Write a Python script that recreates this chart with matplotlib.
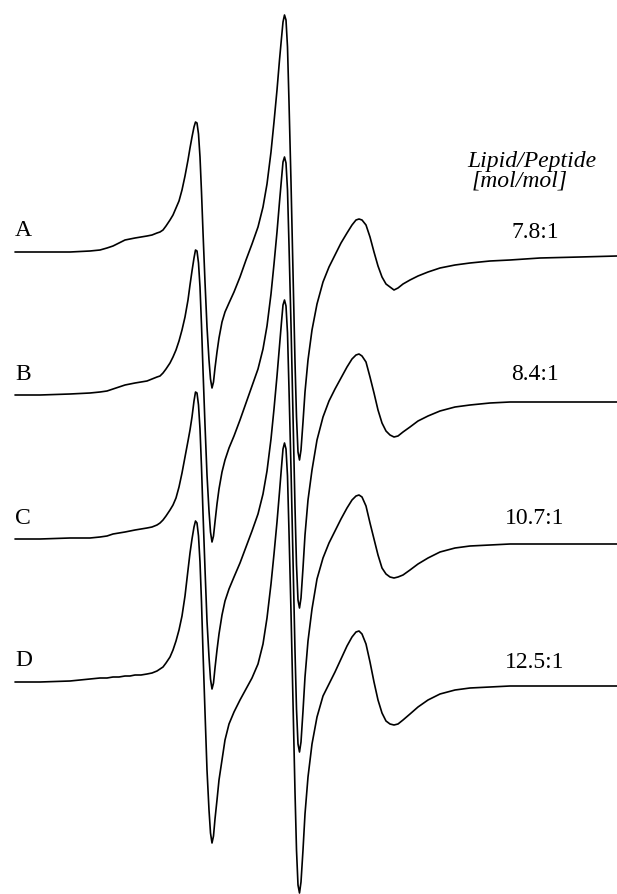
import numpy as np
import matplotlib
matplotlib.use("Agg")
from matplotlib import pyplot as plt

# field positions (arbitrary units, shared by all four spectra)
field = [15, 40, 70, 90, 100, 107, 113, 119, 125, 130,
         135, 141, 147, 152, 157, 160, 163, 166, 170, 173,
         176, 179, 182, 185, 188, 190, 192, 194, 195.5, 197,
         198.5, 200, 201.5, 203, 205, 207, 209, 210.5, 212, 213.5,
         215, 217, 219, 222, 225, 229, 234, 240, 246, 252,
         258, 263, 267, 271, 274, 277, 279.5, 281.5, 283, 284.5,
         286, 287.5, 289, 291, 293, 295, 296.5, 298, 299.5, 301,
         303, 305, 308, 312, 317, 323, 329, 335, 341, 347,
         352, 356, 359, 362, 366, 370, 374, 378, 382, 386,
         390, 394, 398, 403, 410, 418, 428, 440, 455, 470,
         490, 510, 540, 580, 617]

# EPR derivative signal of each sample
amp_A = [0, 0, 0, 1, 2, 4, 6, 9, 12, 13,
         14, 15, 16, 17, 19, 20, 22, 26, 32, 37,
         44, 51, 62, 76, 92, 104, 115, 125, 130, 129,
         118, 95, 60, 20, -30, -75, -108, -127, -136, -130,
         -116, -100, -86, -70, -60, -51, -40, -25, -8, 8,
         25, 45, 68, 100, 130, 162, 192, 214, 230, 237,
         232, 205, 150, 70, -20, -110, -165, -200, -208, -198,
         -170, -140, -108, -78, -52, -30, -15, -3, 9, 19,
         27, 32, 33, 32, 27, 15, 0, -14, -25, -32,
         -35, -38, -36, -32, -28, -24, -20, -16, -13, -11,
         -9, -8, -6, -5, -4]
amp_B = [0, 0, 1, 2, 3, 4, 6, 8, 10, 11,
         12, 13, 14, 16, 18, 19, 22, 26, 32, 38,
         45, 54, 65, 78, 95, 110, 124, 137, 145, 144,
         132, 108, 70, 25, -30, -80, -116, -137, -147, -141,
         -127, -109, -94, -77, -65, -53, -41, -25, -8, 9,
         26, 46, 69, 101, 131, 163, 193, 216, 233, 238,
         232, 205, 150, 70, -20, -112, -170, -205, -213, -203,
         -173, -140, -105, -75, -45, -22, -6, 6, 17, 28,
         36, 40, 41, 39, 33, 18, 2, -15, -28, -36,
         -40, -42, -41, -37, -32, -26, -21, -16, -12, -10,
         -8, -7, -7, -7, -7]
amp_C = [0, 0, 1, 1, 2, 3, 5, 6, 7, 8,
         9, 10, 11, 12, 14, 16, 19, 23, 29, 34,
         41, 52, 66, 82, 98, 109, 122, 138, 147, 146,
         134, 110, 72, 26, -30, -82, -118, -140, -150, -144,
         -129, -111, -95, -76, -62, -50, -38, -24, -8, 8,
         25, 45, 68, 100, 130, 163, 193, 217, 234, 239,
         233, 206, 150, 70, -20, -112, -170, -205, -213, -203,
         -172, -138, -102, -70, -40, -19, -4, 8, 20, 31,
         39, 43, 44, 42, 33, 16, 0, -16, -29, -35,
         -38, -39, -38, -36, -31, -25, -19, -13, -9, -7,
         -6, -5, -5, -5, -5]
amp_D = [0, 0, 1, 3, 4, 4, 5, 5, 6, 6,
         7, 7, 8, 9, 11, 13, 15, 19, 25, 32,
         41, 52, 66, 86, 112, 129, 143, 155, 161, 159,
         146, 120, 80, 30, -30, -88, -128, -151, -161, -154,
         -137, -118, -98, -78, -58, -42, -30, -18, -7, 4,
         18, 38, 64, 98, 128, 160, 190, 215, 233, 239,
         233, 206, 150, 70, -20, -110, -168, -203, -211, -200,
         -168, -132, -95, -62, -35, -14, -2, 10, 23, 36,
         45, 50, 51, 48, 38, 20, 0, -18, -31, -39,
         -42, -43, -42, -38, -32, -25, -18, -12, -8, -6,
         -5, -4, -4, -4, -4]

labels = ["A", "B", "C", "D"]
ratios = ["7.8:1", "8.4:1", "10.7:1", "12.5:1"]
offsets = [0, -143, -287, -430]

fig = plt.figure(figsize=(6.17, 8.94), dpi=100)
ax = fig.add_axes([0, 0, 1, 1])
ax.set_xlim(0, 617)
ax.set_ylim(252 - 894, 252)
ax.axis("off")

serif = ["Liberation Serif", "DejaVu Serif"]

for amp, lab, rat, off in zip([amp_A, amp_B, amp_C, amp_D], labels, ratios, offsets):
    assert len(amp) == len(field)
    ax.plot(field, np.array(amp) + off, color="black", lw=1.2,
            solid_joinstyle="round", solid_capstyle="round")
    ax.text(15, off + 21, lab, fontsize=17, family=serif, ha="left", va="center")
    ax.text(535, off + 20, rat, fontsize=17, family=serif, ha="center", va="center")

ax.text(532, 91, "Lipid/Peptide", fontsize=17, family=serif, style="italic",
        ha="center", va="center")
ax.text(520, 71, "[mol/mol]", fontsize=17, family=serif, style="italic",
        ha="center", va="center")

fig.savefig("out.png", dpi=100)
